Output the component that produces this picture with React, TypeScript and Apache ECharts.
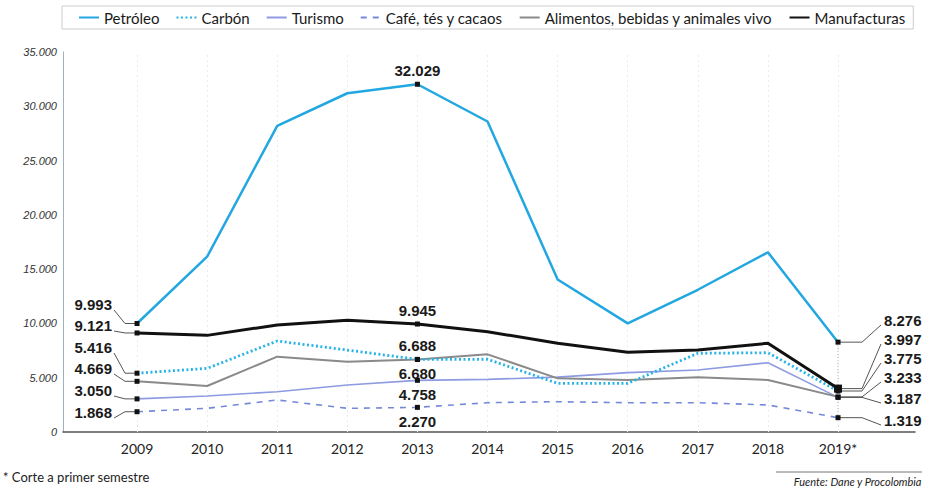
import React, { useEffect, useRef } from 'react';
import * as echarts from 'echarts';

const years = [2009, 2010, 2011, 2012, 2013, 2014, 2015, 2016, 2017, 2018, 2019];
const yearLabels = ['2009', '2010', '2011', '2012', '2013', '2014', '2015', '2016', '2017', '2018', '2019*'];
const yTicks = [0, 5000, 10000, 15000, 20000, 25000, 30000, 35000];

const petroleo = [9993, 16150, 28200, 31200, 32029, 28600, 14050, 10000, 13100, 16550, 8276];
const carbon = [5416, 5860, 8380, 7550, 6688, 6700, 4480, 4480, 7250, 7300, 3775];
const turismo = [3050, 3320, 3710, 4330, 4758, 4850, 5050, 5470, 5710, 6380, 3187];
const cafe = [1868, 2180, 2950, 2180, 2270, 2700, 2790, 2700, 2700, 2490, 1319];
const alimentos = [4669, 4240, 6940, 6480, 6680, 7150, 4940, 4790, 5040, 4790, 3233];
const manufacturas = [9121, 8900, 9860, 10300, 9945, 9240, 8170, 7340, 7550, 8170, 3997];

const labeledIdx = [0, 4, 10];

const fmt = (v: number) => String(v).replace(/\B(?=(\d{3})+(?!\d))/g, '.');

type SDef = {
  name: string;
  values: number[];
  color: string;
  width: number;
  type: any;
  midPos: 'top' | 'bottom';
  leftY: number;
  rightY: number;
  z: number;
};

const defs: SDef[] = [
  { name: 'Petróleo', values: petroleo, color: '#22a7e0', width: 2.5, type: 'solid', midPos: 'top', leftY: 304, rightY: 320, z: 5 },
  { name: 'Carbón', values: carbon, color: '#27b3e6', width: 2.8, type: [2, 2.5], midPos: 'top', leftY: 347, rightY: 358, z: 3 },
  { name: 'Turismo', values: turismo, color: '#8e9be2', width: 1.6, type: 'solid', midPos: 'bottom', leftY: 390, rightY: 398, z: 2 },
  { name: 'Café, tés y cacaos', values: cafe, color: '#7489d8', width: 1.6, type: [6, 6], midPos: 'bottom', leftY: 412, rightY: 420, z: 2 },
  { name: 'Alimentos, bebidas y animales vivo', values: alimentos, color: '#8a8a8a', width: 2, type: 'solid', midPos: 'bottom', leftY: 368, rightY: 377, z: 2 },
  { name: 'Manufacturas', values: manufacturas, color: '#111111', width: 3, type: 'solid', midPos: 'top', leftY: 325, rightY: 339, z: 6 },
];

const LEFT_LABEL_X = 112;
const RIGHT_LABEL_X = 884;

export default function App() {
  const ref = useRef<HTMLDivElement>(null);
  useEffect(() => {
    document.body.style.margin = '0';
    const chart = echarts.init(ref.current!, null, { renderer: 'svg' });
    const labelFont = {
      fontFamily: 'Liberation Sans, Arial, sans-serif',
      fontWeight: 'bold' as const,
      fontSize: 15,
      color: '#1a1a1a',
    };
    const series: any[] = defs.map((d, si) => ({
      name: d.name,
      type: 'line',
      z: d.z,
      symbol: 'none',
      lineStyle: { color: d.color, width: d.width, type: d.type },
      itemStyle: { color: d.color },
      data: years.map((yr, i) => {
        const base: any = { value: [yr, d.values[i]] };
        if (labeledIdx.includes(i)) {
          base.symbol = 'rect';
          base.symbolSize = d.name === 'Manufacturas' && i === 10 ? 8 : 5;
          base.itemStyle = { color: '#111' };
          base.label = {
            show: true,
            position: i === 4 ? d.midPos : 'top',
            distance: 4,
            formatter: () => fmt(d.values[i]),
            ...labelFont,
          };
        }
        return base;
      }),
      labelLayout: (p: any) => {
        if (p.dataIndex === 0) {
          return { x: LEFT_LABEL_X, y: d.leftY, align: 'right', verticalAlign: 'middle' };
        }
        if (p.dataIndex === 10) {
          return { x: RIGHT_LABEL_X, y: d.rightY, align: 'left', verticalAlign: 'middle' };
        }
        return {};
      },
      markLine: si === 0 ? {
        silent: true,
        symbol: 'none',
        label: { show: false },
        lineStyle: { color: '#e4edf1', type: [2, 3], width: 1 },
        data: years.map((yr) => ({ xAxis: yr })),
        z: 1,
      } : undefined,
    }));

    chart.setOption({
      animation: false,
      backgroundColor: '#ffffff',
      legend: {
        left: 62,
        top: 6,
        padding: [4, 8, 4, 16],
        borderColor: '#c8cdd0',
        borderWidth: 1,
        itemWidth: 20,
        itemHeight: 10,
        itemGap: 16,
        itemStyle: { opacity: 0 },
        textStyle: { fontFamily: 'Lato, sans-serif', fontSize: 15, color: '#1a1a1a' },
        data: defs.map((d) => d.name),
      },
      grid: { left: 63, right: 12, top: 52, bottom: 58 },
      xAxis: {
        type: 'value',
        min: 2007.944,
        max: 2020.098,
        axisLine: { show: true, lineStyle: { color: '#555', width: 1.5 } },
        axisTick: { show: false },
        splitLine: { show: false },
        axisLabel: {
          customValues: years,
          formatter: (v: number) => yearLabels[years.indexOf(Math.round(v))] ?? '',
          fontFamily: 'Lato, sans-serif',
          fontSize: 14,
          color: '#222',
          margin: 9,
        },
      },
      yAxis: {
        type: 'value',
        min: yTicks[0],
        max: yTicks[yTicks.length - 1],
        interval: 5000,
        axisLine: { show: true, lineStyle: { color: '#9fb1ba', width: 1 } },
        axisTick: { show: false },
        splitLine: { show: false },
        axisLabel: {
          formatter: (v: number) => fmt(v),
          fontFamily: 'Liberation Sans, Arial, sans-serif',
          fontStyle: 'italic',
          fontSize: 11,
          color: '#333',
          margin: 6,
        },
      },
      series,
    });

    const lines: any[] = [];
    defs.forEach((d) => {
      const p0 = chart.convertToPixel({ gridIndex: 0 }, [years[0], d.values[0]]) as number[];
      lines.push({
        type: 'polyline',
        shape: { points: [[LEFT_LABEL_X + 2, d.leftY + 6], [p0[0] - 12, p0[1]], [p0[0], p0[1]]] },
        style: { stroke: '#555', lineWidth: 1, fill: 'none' },
        silent: true,
        z: 1,
      });
      const last = years.length - 1;
      const p1 = chart.convertToPixel({ gridIndex: 0 }, [years[last], d.values[last]]) as number[];
      lines.push({
        type: 'polyline',
        shape: { points: [[p1[0], p1[1]], [p1[0] + 24, p1[1]], [RIGHT_LABEL_X - 3, d.rightY + 5]] },
        style: { stroke: '#555', lineWidth: 1, fill: 'none' },
        silent: true,
        z: 1,
      });
    });
    const top19 = chart.convertToPixel({ gridIndex: 0 }, [2019, petroleo[10]]) as number[];
    const bot19 = chart.convertToPixel({ gridIndex: 0 }, [2019, cafe[10]]) as number[];
    lines.push({
      type: 'line',
      shape: { x1: top19[0], y1: top19[1], x2: bot19[0], y2: bot19[1] },
      style: { stroke: '#999', lineWidth: 1, lineDash: [1, 2] },
      silent: true,
      z: 0,
    });
    lines.push({
      type: 'text',
      left: 3,
      top: 470,
      style: { text: '* Corte a primer semestre', fontFamily: 'Lato, sans-serif', fontSize: 13, fill: '#222' },
    });
    lines.push({
      type: 'text',
      right: 5,
      top: 476,
      style: { text: 'Fuente: Dane y Procolombia', fontFamily: 'Lato, sans-serif', fontStyle: 'italic', fontSize: 11, fill: '#222' },
    });
    lines.push({
      type: 'line',
      shape: { x1: 776, y1: 472, x2: 922, y2: 472 },
      style: { stroke: '#777', lineWidth: 1 },
    });
    chart.setOption({ graphic: lines });

    return () => chart.dispose();
  }, []);
  return <div ref={ref} style={{ position: 'absolute', left: 0, top: 0, width: 927, height: 490 }} />;
}
